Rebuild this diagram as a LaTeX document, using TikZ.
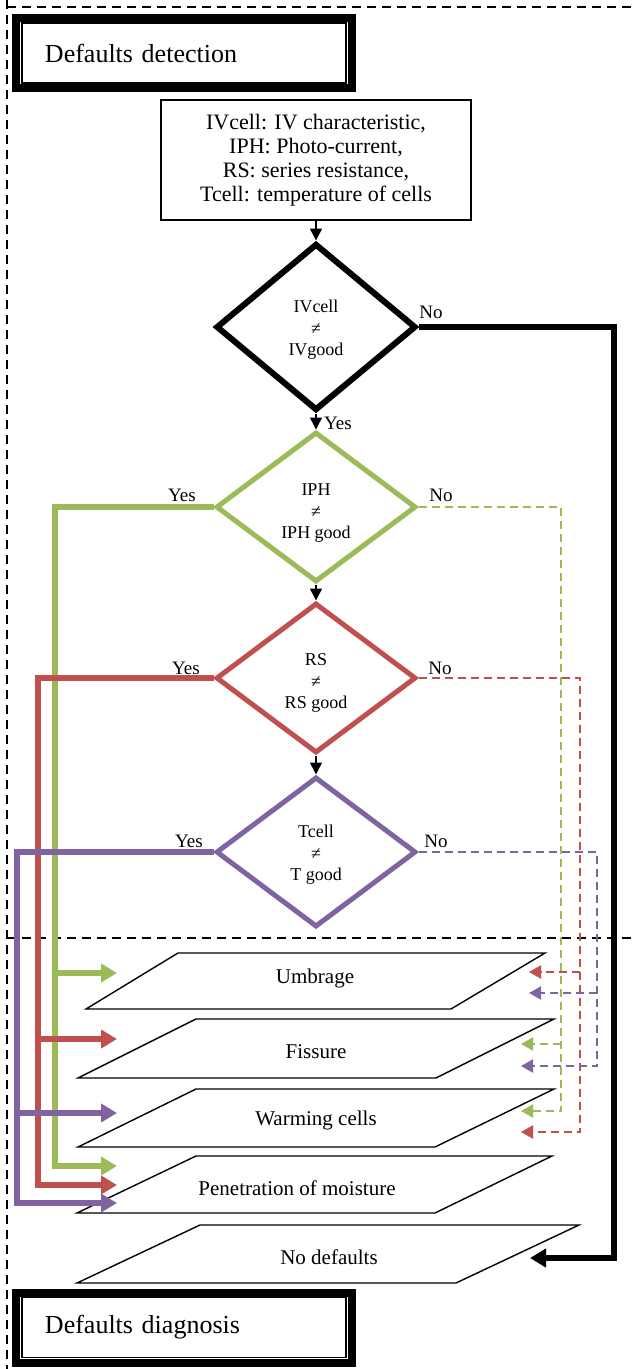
\documentclass[tikz,border=0pt]{standalone}
\usepackage{fontspec}
\setmainfont{Liberation Serif}
\usetikzlibrary{arrows.meta,positioning,calc,shapes.geometric}

\definecolor{ivgreen}{HTML}{9BBB59}
\definecolor{rsred}{HTML}{C0504D}
\definecolor{tpurple}{HTML}{8064A2}

\newcommand{\lowtop}[1]{\rule{0pt}{#1}}

\tikzset{
  dec/.style={diamond, draw, line width=5pt, minimum width=200pt, minimum height=150pt,
    inner sep=0pt, align=center, font=\fontsize{18}{21.5}\selectfont},
  ttl/.style={draw, line width=8pt, outer sep=0pt, minimum width=336pt, minimum height=70pt,
    text width=278pt, inner xsep=29pt, align=left, font=\fontsize{26}{30}\selectfont},
  lbl/.style={inner sep=0pt, font=\fontsize{19}{21}\selectfont},
  ptxt/.style={inner sep=0pt, font=\fontsize{21}{24}\selectfont},
  para/.style={draw, line width=1.4pt, fill=white},
  flow/.style={line width=1.5pt, -{Triangle[length=12pt,width=12pt]}},
  yesarr/.style={line width=5.5pt, -{Triangle[length=16pt,width=18pt]}},
  noarr/.style={line width=2pt, dash pattern=on 8pt off 5pt, -{Triangle[length=12pt,width=13pt]}},
  dashframe/.style={line width=2.3pt, dash pattern=on 9pt off 6pt}
}

\begin{document}
\begin{tikzpicture}[x=1pt,y=-1pt]
    \useasboundingbox (0,0) rectangle (632,1369);

    % frames
    \draw[dashframe] (7,0) -- (7,1369);
    \draw[dashframe] (7,7) -- (632,7);
    \draw[dashframe] (7,938) -- (632,938);

    % titles
    \node (tDet) [ttl] at (184,53) {Defaults detection};
    \draw[line width=1.3pt] ([shift={(6pt,-5pt)}]tDet.north west) rectangle ([shift={(-6pt,5pt)}]tDet.south east);
    \node (tDia) [ttl] at (184,1327.5) {Defaults diagnosis};
    \draw[line width=1.3pt] ([shift={(6pt,-5pt)}]tDia.north west) rectangle ([shift={(-6pt,5pt)}]tDia.south east);

    % inputs
    \node (info) [draw, line width=1.5pt, minimum width=310pt, minimum height=120pt, align=center,
      font=\fontsize{22}{24}\selectfont] at (316,160)
      {IVcell: IV characteristic,\\IPH: Photo-current,\\RS: series resistance,\\Tcell: temperature of cells};

    % tests
    \node (dIV) [dec, line width=6pt, minimum height=167pt] at (316,327) {\lowtop{18pt}IVcell\\≠\\IVgood};
    \node (dIPH) [dec, draw=ivgreen] at (316,507) {\lowtop{24pt}IPH\\≠\\IPH good};
    \node (dRS) [dec, draw=rsred] at (316,678) {\lowtop{22pt}RS\\≠\\RS good};
    \node (dT) [dec, draw=tpurple] at (316,852) {\lowtop{18pt}Tcell\\≠\\T good};

    \draw[flow] (info.south) -- (dIV.north);
    \draw[flow] (dIV.south) -- (dIPH.north);
    \draw[flow] (dIPH.south) -- (dRS.north);
    \draw[flow] (dRS.south) -- (dT.north);

    \node (yIV) [lbl] at (338,423) {Yes};
    \node (nIV) [lbl] at (431,312) {No};
    \node (yIPH) [lbl] at (182,495) {Yes};
    \node (nIPH) [lbl] at (441,495) {No};
    \node (yRS) [lbl] at (186,668) {Yes};
    \node (nRS) [lbl] at (440,668) {No};
    \node (yT) [lbl] at (189,841) {Yes};
    \node (nT) [lbl] at (436,841) {No};

    % defaults
    \draw[para] (178,953) -- (545,953) -- (451,1009) -- (86,1009) -- cycle;
    \node (umb) [ptxt] at (315,978) {Umbrage};
    \draw[para] (196,1019) -- (554,1019) -- (436,1078) -- (78,1078) -- cycle;
    \node (fis) [ptxt] at (316,1052) {Fissure};
    \draw[para] (196,1089) -- (554,1089) -- (435,1147) -- (78,1147) -- cycle;
    \node (warm) [ptxt] at (316,1120) {Warming cells};
    \draw[para] (196,1156) -- (552,1156) -- (435,1213) -- (77,1213) -- cycle;
    \node (pen) [ptxt] at (297,1188) {Penetration of moisture};
    \draw[para] (200,1225) -- (579,1225) -- (456,1283) -- (77,1283) -- cycle;
    \node (nod) [ptxt] at (329,1257) {No defaults};

    % Yes branches
    \coordinate (gcol) at (55,1166);
    \coordinate (gU) at (117,973);
    \coordinate (gP) at (117,1166);
    \draw[yesarr, ivgreen] (dIPH.west) -| (gcol) -- (gP);
    \draw[yesarr, ivgreen] (gcol |- gU) -- (gU);

    \coordinate (rcol) at (38,1185);
    \coordinate (rF) at (117,1039);
    \coordinate (rP) at (117,1185);
    \draw[yesarr, rsred] (dRS.west) -| (rcol) -- (rP);
    \draw[yesarr, rsred] (rcol |- rF) -- (rF);

    \coordinate (pcol) at (17,1203);
    \coordinate (pW) at (117,1113);
    \coordinate (pP) at (117,1203);
    \draw[yesarr, tpurple] (dT.west) -| (pcol) -- (pP);
    \draw[yesarr, tpurple] (pcol |- pW) -- (pW);

    % No branches
    \coordinate (gR) at (561,1111);
    \coordinate (gF) at (521,1044);
    \coordinate (gW) at (521,1111);
    \draw[noarr, ivgreen] (dIPH.east) -| (gR) -- (gW);
    \draw[noarr, ivgreen] (gR |- gF) -- (gF);

    \coordinate (rR) at (580,1132);
    \coordinate (rU) at (529,972);
    \coordinate (rW) at (521,1132);
    \draw[noarr, rsred] (dRS.east) -| (rR) -- (rW);
    \draw[noarr, rsred] (rR |- rU) -- (rU);

    \coordinate (pR) at (597,1066);
    \coordinate (pU) at (529,993);
    \coordinate (pF) at (521,1066);
    \draw[noarr, tpurple] (dT.east) -| (pR) -- (pF);
    \draw[noarr, tpurple] (pR |- pU) -- (pU);

    \coordinate (kR) at (614,1258);
    \coordinate (kN) at (530,1258);
    \draw[line width=6pt, -{Triangle[length=16pt,width=18pt]}] (dIV.east) -| (kR) -- (kN);
\end{tikzpicture}
\end{document}
